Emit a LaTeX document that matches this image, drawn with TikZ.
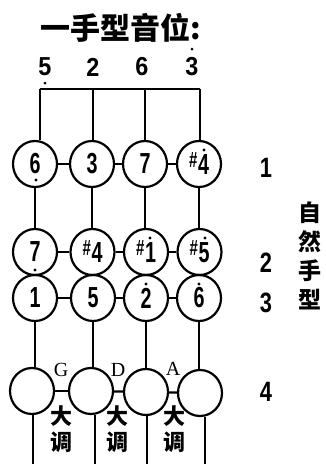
\documentclass[tikz,border=0pt]{standalone}
\usepackage{graphicx}
\usepackage{fontspec}
\setmainfont{Liberation Sans}
\newfontfamily\cjk{Noto Sans CJK SC}
\newfontfamily\serifkey{Liberation Serif}
\usetikzlibrary{shapes.geometric}
\newcommand\nm[1]{\scalebox{0.68}[1]{\fontsize{29}{29}\selectfont\bfseries #1}}
\newcommand\shp{\raisebox{7pt}{\fontsize{22}{22}\selectfont\bfseries\#}\hspace{1pt}}
\newcommand\tp[1]{\scalebox{0.9}[1]{\fontsize{26}{26}\selectfont\bfseries #1}}
\newcommand\rl[1]{\scalebox{0.78}[1]{\fontsize{28}{28}\selectfont\bfseries #1}}
\tikzset{
  ring/.style={ellipse, draw, line width=2.2pt, minimum width=44pt, minimum height=46pt, inner sep=0pt},
  ln/.style={line width=2.2pt},
  dt/.style={fill=black},
  plain/.style={inner sep=0pt},
  vcjk/.style={plain, align=center, font=\cjk\bfseries\fontsize{22}{26}\selectfont}
}
\begin{document}
\begin{tikzpicture}[x=1pt,y=1pt]
\useasboundingbox (0,0) rectangle (325,-464);
% title
\node[plain] (title) at (121,-28) {\cjk\bfseries\fontsize{30}{30}\selectfont 一手型音位:};
% top numbers
\node[plain] (t1) at (45,-67) {\tp{5}};
\node[plain] (t2) at (93,-67) {\tp{2}};
\node[plain] (t3) at (142,-67) {\tp{6}};
\node[plain] (t4) at (192,-67) {\tp{3}};
\fill[dt] (45,-83) circle (1.5);
\fill[dt] (192,-49) circle (1.5);
% bracket
\coordinate (b1) at (40,-89);
\coordinate (b2) at (93,-89);
\coordinate (b3) at (145,-89);
\coordinate (b4) at (200,-89);
\draw[ln] (b1) -- (b4);
% row 1
\node[ring] (c11) at (35,-164) {\nm{6}};
\node[ring] (c12) at (92,-164) {\nm{3}};
\node[ring] (c13) at (145,-164) {\nm{7}};
\node[ring] (c14) at (199,-164) {\nm{\shp4}};
\fill[dt] (36,-180) circle (1.6);
\fill[dt] (204,-150) circle (1.6);
% row 2
\node[ring] (c21) at (35,-252) {\nm{7}};
\node[ring] (c22) at (92.5,-252) {\nm{\shp4}};
\node[ring] (c23) at (146,-252) {\nm{\shp1}};
\node[ring] (c24) at (199.5,-252) {\nm{\shp5}};
\fill[dt] (35,-270) circle (1.6);
\fill[dt] (150,-238) circle (1.6);
\fill[dt] (205,-238) circle (1.6);
% row 3
\node[ring] (c31) at (35,-298) {\nm{1}};
\node[ring] (c32) at (93,-298) {\nm{5}};
\node[ring] (c33) at (146,-298) {\nm{2}};
\node[ring] (c34) at (199,-298) {\nm{6}};
\fill[dt] (146,-284) circle (1.6);
\fill[dt] (199,-284) circle (1.6);
% row 4
\node[ring] (c41) at (32,-391) {};
\node[ring] (c42) at (91,-391) {};
\node[ring] (c43) at (146,-392) {};
\node[ring] (c44) at (200,-393) {};
% vertical: bracket to row 1
\foreach \i in {1,2,3,4} {
  \draw[ln] (b\i) -- (b\i |- c1\i.north);
}
% horizontal links
\foreach \r in {1,2,3,4} {
  \draw[ln] (c\r1) -- (c\r2);
  \draw[ln] (c\r2) -- (c\r3);
  \draw[ln] (c\r3) -- (c\r4);
}
% row 1 to row 2
\foreach \i in {1,2,3,4} {
  \draw[ln] (c1\i.south) -- (c1\i.south |- c2\i.north);
}
% row 3 to row 4
\foreach \i in {1,2,3,4} {
  \draw[ln] (c3\i.south) -- (c3\i.south |- c4\i.north);
}
% below row 4
\coordinate (e1) at (33,-464);
\coordinate (e2) at (95,-464);
\coordinate (e3) at (147,-464);
\coordinate (e4) at (205,-464);
\foreach \i in {1,2,3,4} {
  \draw[ln] (e\i |- c4\i.south) -- (e\i);
}
% key labels
\node[plain] (kg) at (61,-370) {\serifkey\fontsize{20}{20}\selectfont G};
\node[plain] (kd) at (118,-370) {\serifkey\fontsize{20}{20}\selectfont D};
\node[plain] (ka) at (173,-369) {\serifkey\fontsize{20}{20}\selectfont A};
\node[vcjk] (mg) at (61,-429) {大\\调};
\node[vcjk] (md) at (117,-429) {大\\调};
\node[vcjk] (ma) at (174,-429) {大\\调};
% right labels
\node[plain] (r1) at (266,-168) {\rl{1}};
\node[plain] (r2) at (266,-263) {\rl{2}};
\node[plain] (r3) at (266,-303) {\rl{3}};
\node[plain] (r4) at (266,-392) {\rl{4}};
\node[vcjk, font=\cjk\bfseries\fontsize{23}{29}\selectfont] (nat) at (310,-256) {自\\然\\手\\型};
\end{tikzpicture}
\end{document}
